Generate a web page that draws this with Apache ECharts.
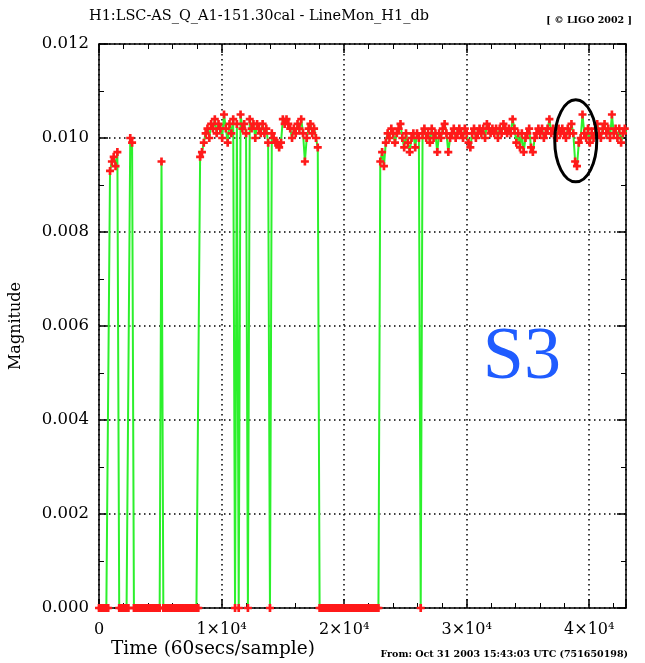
<!DOCTYPE html>
<html>
<head>
<meta charset="utf-8">
<script src="https://cdn.jsdelivr.net/npm/echarts@6/dist/echarts.min.js"></script>
<style>
  html, body { margin: 0; padding: 0; background: #fff; }
  #main { width: 645px; height: 663px; }
</style>
</head>
<body>
<div id="main"></div>
<script>
// one sample every 150 time units (minute trend, plotted decimated)
const sampleStep = 150

// 0 .. 8250 : short locks before the long stretch
const startup = [
  0, 0, 0, 0, 0, 0,
  0.0093, 0.0095, 0.0096, 0.0094, 0.0097,
  0, 0, 0, 0, 0, 0,
  0.0100, 0.0099,
  0, 0, 0, 0, 0, 0, 0, 0, 0, 0, 0, 0, 0, 0, 0,
  0.0095,
  0, 0, 0, 0, 0, 0, 0, 0, 0, 0, 0, 0, 0, 0, 0, 0, 0, 0, 0, 0,
  0.0096
]

// 8400 .. 17850
const lock1 = [
  0.0097, 0.0099, 0.0101, 0.0102, 0.0100, 0.0103, 0.0102, 0.0104, 0.0101, 0.0103,
  0.0102, 0.0100, 0.0105, 0.0102, 0.0099, 0.0103, 0.0101, 0.0104, 0, 0.0103,
  0, 0.0105, 0.0102, 0.0103, 0.0101, 0, 0.0104, 0.0102, 0.0103, 0.0100,
  0.0103, 0.0102, 0.0101, 0.0103, 0.0101, 0.0102, 0.0099, 0, 0.0101, 0.0100,
  0.0099, 0.0099, 0.0098, 0.0099, 0.0104, 0.0103, 0.0104, 0.0103, 0.0102, 0.0100,
  0.0102, 0.0101, 0.0103, 0.0102, 0.0104, 0.0101, 0.0095, 0.0100, 0.0102, 0.0103,
  0.0101, 0.0102, 0.0100, 0.0098
]

// 18000 .. 22800 : unlocked
const gap = [
  0, 0, 0, 0, 0, 0, 0, 0, 0, 0, 0, 0, 0, 0, 0, 0, 0,
  0, 0, 0, 0, 0, 0, 0, 0, 0, 0, 0, 0, 0, 0, 0, 0
]

// 22950 .. 43050
const lock2 = [
  0.0095, 0.0097, 0.0094, 0.0099, 0.0101, 0.0100, 0.0102, 0.0101, 0.0099, 0.0101,
  0.0102, 0.0103, 0.0100, 0.0098, 0.0101, 0.0099, 0.0097, 0.0100, 0.0101, 0.0098,
  0.0101, 0.0100, 0, 0.0101, 0.0102, 0.0100, 0.0101, 0.0099, 0.0102, 0.0100,
  0.0101, 0.0097, 0.0101, 0.0100, 0.0102, 0.0103, 0.0101, 0.0097, 0.0100, 0.0101,
  0.0102, 0.0100, 0.0101, 0.0102, 0.0101, 0.0100, 0.0102, 0.0101, 0.0099, 0.0098,
  0.0101, 0.0102, 0.0100, 0.0101, 0.0102, 0.0101, 0.0102, 0.0100, 0.0103, 0.0102,
  0.0101, 0.0102, 0.0101, 0.0102, 0.0100, 0.0102, 0.0101, 0.0103, 0.0102, 0.0101,
  0.0102, 0.0101, 0.0104, 0.0102, 0.0099, 0.0101, 0.0098, 0.0101, 0.0097, 0.0100,
  0.0101, 0.0102, 0.0098, 0.0097, 0.0100, 0.0101, 0.0102, 0.0101, 0.0102, 0.0100,
  0.0101, 0.0102, 0.0104, 0.0101, 0.0102, 0.0101, 0.0100, 0.0102, 0.0101, 0.0102,
  0.0101, 0.0100, 0.0102, 0.0101, 0.0103, 0.0101, 0.0095, 0.0094, 0.0099, 0.0100,
  0.0105, 0.0101, 0.0100, 0.0102, 0.0099, 0.0101, 0.0100, 0.0102, 0.0103, 0.0101,
  0.0100, 0.0102, 0.0103, 0.0101, 0.0102, 0.0100, 0.0105, 0.0101, 0.0102, 0.0100,
  0.0102, 0.0099, 0.0101, 0.0102, 0.0101
]

const xTicks = [0, 10000, 20000, 30000, 40000]
const yTicks = [0, 0.002, 0.004, 0.006, 0.008, 0.010, 0.012]

const magnitude = [...startup, ...lock1, ...gap, ...lock2]
const points = magnitude.map((v, i) => [i * sampleStep, v])

const serif = 'DejaVu Serif'
const plus = 'path://M2,0H4V2H6V4H4V6H2V4H0V2H2Z'

const myChart = echarts.init(document.getElementById('main'))

const dotted = { color: '#000', width: 1.5, type: [1.5, 3.5] }
const frameLine = { show: true, onZero: false, lineStyle: { color: '#000', width: 1.5 } }

function xAxisCfg(pos, labels) {
  return {
    type: 'value',
    position: pos,
    min: xTicks[0],
    max: 43000,
    interval: 10000,
    axisLine: frameLine,
    axisTick: { inside: true, length: 9, lineStyle: { color: '#000', width: 1.5 } },
    minorTick: { show: true, splitNumber: 5, length: 5, lineStyle: { color: '#000', width: 1 } },
    axisLabel: {
      show: labels,
      margin: 14,
      color: '#000',
      fontFamily: serif,
      fontSize: 16,
      formatter: v => (v === 0 ? '0' : (v / 10000) + '×10⁴')
    },
    splitLine: { show: labels, lineStyle: dotted }
  }
}

function yAxisCfg(pos, labels) {
  return {
    type: 'value',
    position: pos,
    min: yTicks[0],
    max: yTicks[yTicks.length - 1],
    interval: 0.002,
    axisLine: frameLine,
    axisTick: { inside: true, length: 9, lineStyle: { color: '#000', width: 1.5 } },
    minorTick: { show: true, splitNumber: 2, length: 5, lineStyle: { color: '#000', width: 1 } },
    axisLabel: {
      show: labels,
      margin: 10,
      color: '#000',
      fontFamily: serif,
      fontSize: 16.5,
      formatter: v => v.toFixed(3)
    },
    splitLine: { show: labels, lineStyle: dotted },
    name: labels ? 'Magnitude' : '',
    nameLocation: 'middle',
    nameGap: 75,
    nameRotate: 90,
    nameTextStyle: { color: '#000', fontFamily: serif, fontSize: 16 }
  }
}

myChart.setOption({
  animation: false,
  backgroundColor: '#fff',
  title: {
    text: 'H1:LSC-AS_Q_A1-151.30cal - LineMon_H1_db',
    left: 84,
    top: 4,
    textStyle: { color: '#000', fontFamily: serif, fontSize: 14.5, fontWeight: 'normal' }
  },
  grid: { left: 99, right: 19, top: 44, bottom: 55 },
  xAxis: [xAxisCfg('bottom', true), xAxisCfg('top', false)],
  yAxis: [yAxisCfg('left', true), yAxisCfg('right', false)],
  series: [
    {
      type: 'line',
      data: points,
      showSymbol: false,
      lineStyle: { color: '#2cf02c', width: 2 },
      emphasis: { disabled: true },
      z: 2
    },
    {
      type: 'scatter',
      data: points,
      symbol: plus,
      symbolSize: 8,
      itemStyle: { color: '#ff1a1a', opacity: 1 },
      emphasis: { disabled: true },
      z: 3
    }
  ]
})

// annotations placed from data coordinates
const ring = myChart.convertToPixel({ xAxisIndex: 0, yAxisIndex: 0 }, [38900, 0.00994])
const s3 = myChart.convertToPixel({ xAxisIndex: 0, yAxisIndex: 0 }, [34500, 0.0053])

myChart.setOption({
  graphic: [
    {
      type: 'ellipse',
      shape: { cx: ring[0], cy: ring[1], rx: 21, ry: 41 },
      style: { fill: 'none', stroke: '#000', lineWidth: 3 },
      z: 100
    },
    {
      type: 'text',
      x: s3[0],
      y: s3[1],
      style: {
        text: 'S3',
        fill: '#1f5cff',
        font: '74px "Liberation Serif"',
        textAlign: 'center',
        textVerticalAlign: 'middle'
      },
      z: 100
    },
    {
      type: 'text',
      x: 111,
      y: 640,
      style: { text: 'Time (60secs/sample)', fill: '#000', font: '18.5px "DejaVu Serif"' }
    },
    {
      type: 'text',
      x: 628,
      y: 650,
      style: {
        text: 'From: Oct 31 2003 15:43:03 UTC (751650198)',
        fill: '#000',
        font: 'bold 9.5px "DejaVu Serif"',
        textAlign: 'right'
      }
    },
    {
      type: 'text',
      x: 632,
      y: 16,
      style: {
        text: '[ © LIGO 2002 ]',
        fill: '#000',
        font: 'bold 9.5px "DejaVu Serif"',
        textAlign: 'right'
      }
    }
  ]
})
</script>
</body>
</html>
